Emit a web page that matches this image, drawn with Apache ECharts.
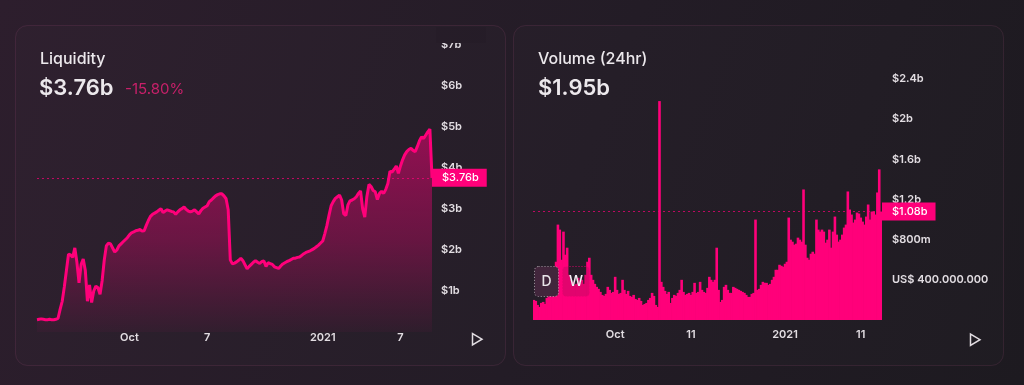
<!DOCTYPE html>
<html><head><meta charset="utf-8">
<script src="https://cdn.jsdelivr.net/npm/echarts@6/dist/echarts.min.js"></script>
<style>html,body{margin:0;padding:0;background:#221b25;}#c{width:1024px;height:385px;}</style>
</head><body><div id="c"></div>
<script>
// ---------- data ----------
const startDate = '2020-08-18';
const dayCount = 189;

const liquidity = [
  0.30,0.31,0.32,0.31,0.30,0.30,0.31,0.30,0.30,0.31,0.33,
  0.55,0.75,1.10,1.50,1.90,1.88,1.82,2.05,1.70,1.20,
  1.65,1.78,1.50,0.75,1.15,0.72,1.00,1.12,1.08,0.92,
  1.25,1.75,2.10,2.17,2.15,2.05,1.95,2.00,2.10,2.15,
  2.20,2.25,2.30,2.37,2.42,2.44,2.47,2.48,2.50,2.46,
  2.47,2.60,2.72,2.82,2.87,2.90,2.93,2.97,3.01,2.91,
  2.95,2.98,2.96,2.94,2.93,2.87,2.93,2.98,3.01,3.05,
  2.99,2.95,2.93,2.95,2.98,2.93,2.88,2.96,3.02,3.05,
  3.08,3.18,3.22,3.27,3.32,3.35,3.37,3.37,3.32,3.25,
  2.98,1.76,1.66,1.68,1.71,1.75,1.80,1.74,1.64,1.54,
  1.60,1.65,1.70,1.74,1.70,1.67,1.72,1.73,1.60,1.69,
  1.67,1.65,1.59,1.57,1.55,1.61,1.66,1.69,1.72,1.74,
  1.77,1.80,1.80,1.82,1.83,1.87,1.91,1.94,1.96,1.98,
  2.01,2.04,2.08,2.12,2.17,2.22,2.40,2.60,2.85,3.08,
  3.18,3.26,3.30,3.34,3.22,2.88,2.84,3.10,3.20,3.22,
  3.25,3.30,3.38,3.44,3.00,2.80,3.30,3.60,3.55,3.45,
  3.42,3.23,3.38,3.43,3.38,3.48,3.62,3.92,3.90,3.97,
  4.05,3.87,4.05,4.20,4.32,4.40,4.45,4.48,4.43,4.40,
  4.52,4.66,4.76,4.72,4.80,4.88,4.95,3.76
];

const volume = [
  0.20,0.19,0.15,0.13,0.17,0.18,0.16,0.22,0.25,0.28,
  0.35,0.45,0.58,0.95,0.90,0.60,0.88,0.65,0.72,0.45,
  0.40,0.38,0.35,0.36,0.42,0.37,0.40,0.36,0.45,0.58,
  0.62,0.45,0.40,0.36,0.33,0.31,0.28,0.25,0.24,0.26,
  0.33,0.30,0.27,0.28,0.43,0.30,0.26,0.27,0.40,0.30,
  0.26,0.29,0.24,0.23,0.25,0.21,0.20,0.22,0.19,0.15,
  0.16,0.17,0.20,0.22,0.27,0.24,0.15,0.13,2.18,0.38,
  0.33,0.29,0.26,0.28,0.17,0.22,0.25,0.24,0.27,0.30,
  0.40,0.28,0.25,0.26,0.27,0.25,0.28,0.37,0.27,0.28,
  0.38,0.30,0.28,0.27,0.32,0.43,0.40,0.38,0.40,0.72,
  0.30,0.18,0.20,0.33,0.35,0.30,0.27,0.27,0.33,0.32,
  0.31,0.30,0.29,0.28,0.27,0.25,0.23,0.23,0.26,0.27,
  1.00,0.30,0.31,0.35,0.38,0.37,0.37,0.35,0.36,0.40,
  0.43,0.50,0.50,0.55,0.54,0.53,0.56,0.58,1.02,0.80,
  0.78,0.75,0.76,0.82,0.80,0.78,1.30,0.75,0.62,0.60,
  0.66,0.68,0.66,1.00,0.90,0.88,0.90,0.88,0.77,0.80,
  0.90,0.72,0.88,1.03,0.85,0.78,0.80,0.85,0.92,0.95,
  1.28,1.10,1.05,0.97,1.00,1.07,1.06,1.02,0.98,0.95,
  1.03,1.15,1.00,1.08,1.08,1.05,1.27,1.50,1.08
];

const liqTickIdx = [44, 81, 136, 173];
const liqTickText = ['Oct', '7', '2021', '7'];
const volTickIdx = [44, 85, 136, 177];
const volTickText = ['Oct', '11', '2021', '11'];
const liqYLabels = ['', '$1b', '$2b', '$3b', '$4b', '$5b', '$6b', '$7b'];
const volYLabels = ['', 'US$ 400.000.000', '$800m', '$1.2b', '$1.6b', '$2b', '$2.4b'];

const liqTitle = 'Liquidity';
const liqValueText = '$3.76b';
const liqChangeText = '-15.80%';
const liqCurrent = 3.76;
const liqCurrentText = '$3.76b';
const volTitle = 'Volume (24hr)';
const volValueText = '$1.95b';
const volCurrent = 1.08;
const volCurrentText = '$1.08b';

// ---------- build ----------
const dates = [];
(function () {
  const d0 = new Date(startDate + 'T00:00:00Z');
  for (let i = 0; i < dayCount; i++) {
    const d = new Date(d0.getTime() + i * 86400000);
    dates.push(d.toISOString().slice(0, 10));
  }
})();

const PINK = '#ff007a';
const FONT = 'Inter, "Noto Sans", sans-serif';
const bgGrad = new echarts.graphic.LinearGradient(0, 0, 1024, 385, [
  { offset: 0, color: '#2d1e2d' },
  { offset: 0.55, color: '#231c26' },
  { offset: 1, color: '#1d1a20' }
], true);

const chart = echarts.init(document.getElementById('c'), null, { renderer: 'canvas' });

function xAxisCfg(gridIndex, tickIdx, tickText, margin, boundaryGap) {
  return {
    type: 'category', gridIndex, data: dates, boundaryGap,
    axisLine: { show: false }, axisTick: { show: false }, splitLine: { show: false },
    axisLabel: {
      margin, color: '#e2dde2', fontSize: 11, fontWeight: 600, fontFamily: FONT,
      interval: (idx) => tickIdx.indexOf(idx) >= 0,
      formatter: (v, idx) => { const k = tickIdx.indexOf(idx); return k >= 0 ? tickText[k] : ''; }
    }
  };
}

function markLineCfg(value, text) {
  return {
    silent: true, symbol: 'none', animation: false,
    lineStyle: { color: 'rgba(255,0,122,0.7)', type: [2, 3], width: 1 },
    label: {
      show: true, position: 'end', distance: 0, formatter: text,
      backgroundColor: PINK, color: '#ffffff', fontSize: 11, fontWeight: 500, fontFamily: FONT,
      padding: [4, 8, 3, 10]
    },
    data: [{ yAxis: value }]
  };
}

const option = {
  backgroundColor: 'transparent',
  animation: false,
  grid: [
    { left: 37, top: 45, width: 395, height: 287 },
    { left: 533, top: 79, width: 349, height: 241 }
  ],
  xAxis: [
    xAxisCfg(0, liqTickIdx, liqTickText, 0, false),
    xAxisCfg(1, volTickIdx, volTickText, 9, true)
  ],
  yAxis: [
    {
      type: 'value', gridIndex: 0, position: 'right', min: 0, max: 7, interval: 1,
      axisLine: { show: false }, axisTick: { show: false }, splitLine: { show: false },
      axisLabel: { margin: 9, color: '#e2dde2', fontSize: 11, fontWeight: 600, fontFamily: FONT,
        formatter: (v) => liqYLabels[Math.round(v)] || '' }
    },
    {
      type: 'value', gridIndex: 1, position: 'right', min: 0, max: 2.4, interval: 0.4,
      axisLine: { show: false }, axisTick: { show: false }, splitLine: { show: false },
      axisLabel: { margin: 10, color: '#e2dde2', fontSize: 11, fontWeight: 600, fontFamily: FONT,
        formatter: (v) => volYLabels[Math.round(v / 0.4)] || '' }
    }
  ],
  series: [
    {
      type: 'line', xAxisIndex: 0, yAxisIndex: 0, data: liquidity,
      symbol: 'none', smooth: false,
      lineStyle: { color: PINK, width: 3 },
      itemStyle: { color: PINK },
      areaStyle: {
        color: new echarts.graphic.LinearGradient(0, 0, 0, 1, [
          { offset: 0, color: 'rgba(255,0,122,0.72)' },
          { offset: 0.55, color: 'rgba(255,0,122,0.42)' },
          { offset: 1, color: 'rgba(255,0,122,0.05)' }
        ])
      },
      markLine: markLineCfg(liqCurrent, liqCurrentText),
      z: 3
    },
    {
      type: 'bar', xAxisIndex: 1, yAxisIndex: 1, data: volume,
      barWidth: 2.6,
      itemStyle: { color: PINK },
      markLine: markLineCfg(volCurrent, volCurrentText),
      z: 3
    }
  ],
  graphic: [
    { type: 'rect', z: -20, silent: true, shape: { x: 0, y: 0, width: 1024, height: 385 }, style: { fill: bgGrad } },
    { type: 'rect', z: -10, silent: true, shape: { x: 15.5, y: 25.5, width: 490, height: 340, r: 12 },
      style: { fill: 'rgba(255,255,255,0.012)', stroke: 'rgba(255,120,190,0.10)', lineWidth: 1 } },
    { type: 'rect', z: -10, silent: true, shape: { x: 513.5, y: 25.5, width: 490, height: 340, r: 12 },
      style: { fill: 'rgba(255,255,255,0.012)', stroke: 'rgba(255,120,190,0.10)', lineWidth: 1 } },
    // cover for clipped top label
    { type: 'rect', z: 50, silent: true, shape: { x: 436, y: 27, width: 50, height: 16 }, style: { fill: bgGrad } },
    // titles
    { type: 'text', z: 60, x: 40, y: 59, style: { text: liqTitle, font: '500 16px ' + FONT, fill: '#ece8ec', verticalAlign: 'middle' } },
    { type: 'text', z: 60, x: 39, y: 88, style: { text: liqValueText, font: '600 22px ' + FONT, fill: '#ece8ec', verticalAlign: 'middle' } },
    { type: 'text', z: 60, x: 125, y: 89, style: { text: liqChangeText, font: '400 15px ' + FONT, fill: '#c8206a', verticalAlign: 'middle' } },
    { type: 'text', z: 60, x: 538, y: 59, style: { text: volTitle, font: '500 16px ' + FONT, fill: '#ece8ec', verticalAlign: 'middle' } },
    { type: 'text', z: 60, x: 538, y: 88, style: { text: volValueText, font: '600 22px ' + FONT, fill: '#ece8ec', verticalAlign: 'middle' } },
    // D / W buttons
    { type: 'rect', z: 60, silent: true, shape: { x: 534.5, y: 266.5, width: 24, height: 30, r: 4 },
      style: { fill: '#42263c', stroke: 'rgba(255,255,255,0.55)', lineWidth: 1, lineDash: [1, 2] } },
    { type: 'text', z: 61, x: 546.5, y: 282, style: { text: 'D', font: '500 14px ' + FONT, fill: '#e8e4e8', align: 'center', verticalAlign: 'middle' } },
    { type: 'rect', z: 60, silent: true, shape: { x: 562.5, y: 266.5, width: 27, height: 30, r: 4 },
      style: { fill: 'rgba(60,25,50,0.15)', stroke: 'rgba(255,0,122,0.8)', lineWidth: 1, lineDash: [1, 2] } },
    { type: 'text', z: 61, x: 576, y: 282, style: { text: 'W', font: '500 14px ' + FONT, fill: '#f4eef4', align: 'center', verticalAlign: 'middle' } },
    // play icons
    { type: 'polygon', z: 60, silent: true, shape: { points: [[472.5, 333.5], [472.5, 345], [482, 339.2]] },
      style: { fill: 'none', stroke: '#e2dde2', lineWidth: 1.5 } },
    { type: 'polygon', z: 60, silent: true, shape: { points: [[970.5, 334], [970.5, 345.5], [980, 339.7]] },
      style: { fill: 'none', stroke: '#e2dde2', lineWidth: 1.5 } }
  ]
};
chart.setOption(option);
</script>
</body></html>
